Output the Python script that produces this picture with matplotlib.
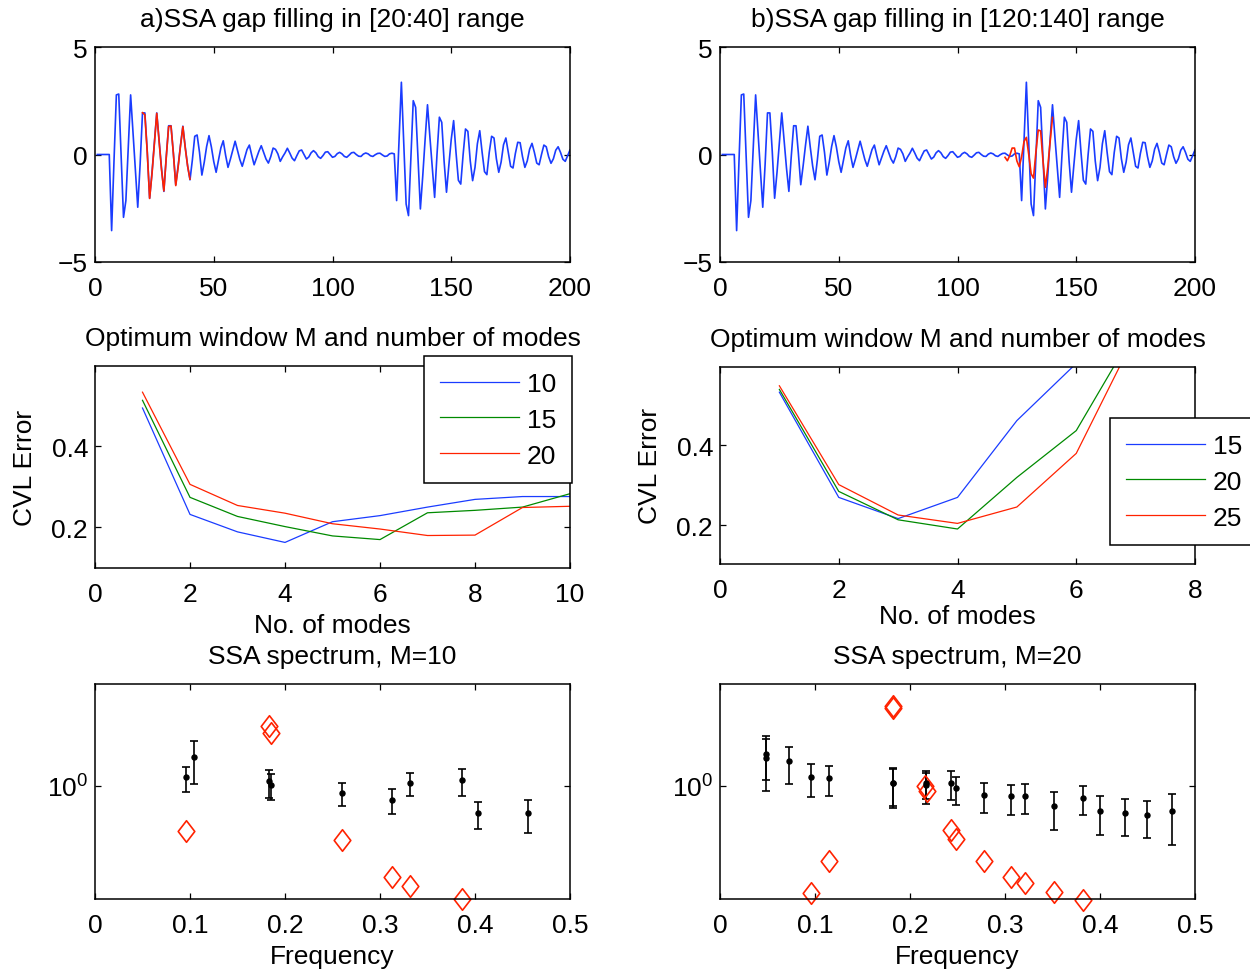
import numpy as np
import matplotlib
matplotlib.use("Agg")
import matplotlib.pyplot as plt
from matplotlib.path import Path

plt.rcParams['font.family'] = ['Liberation Sans', 'DejaVu Sans']
plt.rcParams['font.size'] = 19
plt.rcParams['mathtext.fontset'] = 'custom'
plt.rcParams['mathtext.rm'] = 'Liberation Sans'
plt.rcParams['mathtext.it'] = 'Liberation Sans:italic'
plt.rcParams['axes.linewidth'] = 1.1

# ---------------- data ----------------
# test signal, samples 1..200
signal = [
    0, 0, 0, 0, 0, 0, -3.55, -0.30, 2.78, 2.82,
    -0.05, -2.93, -2.15, 0.35, 2.78, 1.03, -0.71, -2.46, -0.45, 1.94,
    1.94, 0.15, -2.04, -0.84, 0.57, 1.94, 0.65, -0.64, -1.72, -0.10,
    1.34, 1.34, 0.06, -1.41, -0.53, 0.43, 1.32, 0.35, -0.53, -1.18,
    -0.25, 0.85, 0.91, 0.10, -0.96, -0.36, 0.37, 0.88, 0.35, -0.33,
    -0.83, -0.25, 0.31, 0.64, -0.04, -0.60, -0.22, 0.21, 0.62, 0.18,
    -0.24, -0.55, -0.16, 0.23, 0.44, -0.04, -0.48, -0.16, 0.15, 0.41,
    0.10, -0.21, -0.40, -0.10, 0.30, 0.24, 0.03, -0.32, -0.11, 0.07,
    0.29, 0.07, -0.17, -0.29, -0.05, 0.17, 0.21, 0.00, -0.21, -0.12,
    0.08, 0.18, 0.08, -0.10, -0.18, -0.05, 0.11, 0.13, 0.00, -0.13,
    -0.09, 0.04, 0.10, 0.03, -0.09, -0.13, -0.03, 0.08, 0.10, 0.00,
    -0.08, -0.09, 0.02, 0.07, 0.03, -0.06, -0.09, -0.01, 0.05, 0.06,
    -0.02, -0.09, -0.07, 0.03, 0.06, 0.03, -2.15, 0.60, 3.37, 0.50,
    -2.31, -2.85, -0.20, 2.51, 2.20, -0.20, -2.54, -1.00, 0.71, 2.32,
    0.83, -0.57, -2.00, 0.00, 1.74, 1.50, -0.33, -1.76, -0.49, 0.71,
    1.58, 0.10, -1.20, -1.38, 0.00, 1.19, 1.08, -0.30, -1.22, -0.60,
    0.50, 1.11, 0.10, -0.80, -0.94, 0.10, 0.85, 0.77, -0.20, -0.83,
    -0.35, 0.45, 0.77, 0.10, -0.55, -0.63, 0.05, 0.57, 0.55, -0.10,
    -0.60, -0.30, 0.25, 0.52, 0.10, -0.40, -0.48, 0.00, 0.44, 0.36,
    -0.10, -0.41, -0.20, 0.20, 0.36, 0.10, -0.22, -0.32, -0.05, 0.21,
]
gap_a_start, gap_a_end = 20, 40
filled_a = [1.95, 1.85, 0.10, -2.05, -0.90, 0.50, 1.92, 0.60, -0.70, -1.70,
            -0.15, 1.30, 1.33, 0.05, -1.45, -0.60, 0.40, 1.30, 0.30, -0.55, -1.15]
gap_b_start, gap_b_end = 120, 140
filled_b = [-0.13, -0.29, -0.05, 0.30, 0.30, -0.30, -0.57, -0.10, 0.60, 0.80,
            0.00, -0.90, -1.10, 0.10, 1.14, 1.10, -0.30, -1.53, -0.60, 0.60, 1.73]

# cross-validation error vs number of modes
modes_a = [1, 2, 3, 4, 5, 6, 7, 8, 9, 10]
cvl_a_M10 = [0.494, 0.232, 0.189, 0.163, 0.214, 0.229, 0.250, 0.269, 0.276, 0.276]
cvl_a_M15 = [0.513, 0.274, 0.227, 0.202, 0.179, 0.170, 0.236, 0.242, 0.250, 0.283]
cvl_a_M20 = [0.533, 0.306, 0.254, 0.235, 0.209, 0.196, 0.180, 0.181, 0.249, 0.252]
windows_a = ['10', '15', '20']

modes_b = [1, 2, 3, 4, 5, 6, 7]
cvl_b_M15 = [0.533, 0.270, 0.217, 0.270, 0.462, 0.605, 0.800]
cvl_b_M20 = [0.540, 0.285, 0.214, 0.191, 0.320, 0.437, 0.690]
cvl_b_M25 = [0.549, 0.302, 0.226, 0.205, 0.246, 0.380, 0.677]
windows_b = ['15', '20', '25']

# SSA spectra: eigenvalues with error bars, and reference values
freq_a = [0.0954, 0.1039, 0.1835, 0.1853, 0.2604, 0.3123, 0.3316, 0.3860, 0.4028, 0.4554]
eig_a = [1.086, 1.304, 1.047, 1.009, 0.941, 0.882, 1.031, 1.059, 0.783, 0.783]
eig_a_hi = [1.193, 1.506, 1.161, 1.116, 1.031, 0.970, 1.126, 1.172, 0.866, 0.882]
eig_a_lo = [0.949, 1.022, 0.898, 0.882, 0.830, 0.772, 0.910, 0.912, 0.674, 0.650]
ref_freq_a = [0.0954, 0.1835, 0.1853, 0.2604, 0.3123, 0.3316, 0.3860]
ref_val_a = [0.660, 1.730, 1.630, 0.611, 0.434, 0.401, 0.355]

freq_b = [0.0484, 0.0484, 0.0723, 0.0954, 0.1144, 0.1825, 0.1825, 0.2172, 0.2172, 0.2435,
          0.2484, 0.2779, 0.3060, 0.3214, 0.3516, 0.3825, 0.4000, 0.4267, 0.4498, 0.4761]
eig_b = [1.341, 1.290, 1.257, 1.083, 1.076, 1.031, 1.025, 1.028, 1.009, 1.031,
         0.982, 0.921, 0.910, 0.915, 0.835, 0.898, 0.798, 0.781, 0.769, 0.793]
eig_b_hi = [1.585, 1.534, 1.433, 1.220, 1.205, 1.179, 1.170, 1.147, 1.126, 1.150,
            1.089, 1.025, 1.012, 1.021, 0.949, 1.000, 0.910, 0.890, 0.874, 0.929]
eig_b_lo = [0.955, 1.059, 1.015, 0.904, 0.910, 0.817, 0.835, 0.888, 0.850, 0.880,
            0.843, 0.781, 0.769, 0.776, 0.668, 0.764, 0.638, 0.632, 0.619, 0.582]
ref_freq_b = [0.0954, 0.1144, 0.1825, 0.1825, 0.2161, 0.2182, 0.2428, 0.2484, 0.2779,
              0.3060, 0.3214, 0.3516, 0.3825]
ref_val_b = [0.374, 0.503, 2.087, 2.040, 1.003, 0.953, 0.670, 0.615, 0.503,
             0.434, 0.410, 0.377, 0.353]

# ---------------- styling ----------------
BLUE = '#1a3cff'
GREEN = '#008a00'
RED = '#ff2200'
W, H = 1250, 970

fig = plt.figure(figsize=(W / 100, H / 100), dpi=100)


def add_axes(x0, y0, x1, y1):
    """Axes given by pixel box (left, top, right, bottom)."""
    return fig.add_axes([x0 / W, 1 - y1 / H, (x1 - x0) / W, (y1 - y0) / H])


def style(ax):
    ax.tick_params(direction='in', top=True, right=True, length=4.5, width=0.9)
    ax.tick_params(axis='x', pad=10)
    ax.tick_params(axis='y', pad=5)
    ax.minorticks_off()


def title_at(ax, text, dy_px):
    h = ax.get_position().height * H
    ax.text(0.5, 1 + dy_px / h, text, transform=ax.transAxes,
            ha='center', va='center')


def xlabel_at(ax, text, dy_px):
    h = ax.get_position().height * H
    ax.text(0.5, -dy_px / h, text, transform=ax.transAxes,
            ha='center', va='center')


def ylabel_at(ax, text, dx_px):
    w = ax.get_position().width * W
    ax.text(-dx_px / w, 0.5, text, transform=ax.transAxes, rotation=90,
            ha='center', va='center')


t = np.arange(1, len(signal) + 1)

# ---- top row: gap filling ----
for x0, (g0, g1, filled, title) in zip(
        (95, 720),
        ((gap_a_start, gap_a_end, filled_a, 'a)SSA gap filling in [20:40] range'),
         (gap_b_start, gap_b_end, filled_b, 'b)SSA gap filling in [120:140] range'))):
    ax = add_axes(x0, 48.3, x0 + 475, 262.7)
    ax.plot(t, signal, color=BLUE, lw=1.2)
    ax.plot(np.arange(g0, g1 + 1), filled, color=RED, lw=1.2)
    ax.set_xlim(0, 200)
    ax.set_ylim(-5, 5)
    ax.set_xticks([0, 50, 100, 150, 200])
    ax.set_yticks([-5, 0, 5])
    style(ax)
    title_at(ax, title, 28)

# ---- middle row: optimum window ----
diamond = Path([(0, 1), (0.77, 0), (0, -1), (-0.77, 0), (0, 1)],
               [Path.MOVETO, Path.LINETO, Path.LINETO, Path.LINETO, Path.CLOSEPOLY])

ax = add_axes(95, 367, 570, 569)
for vals, c, lab in zip((cvl_a_M10, cvl_a_M15, cvl_a_M20), (BLUE, GREEN, RED), windows_a):
    ax.plot(modes_a, vals, color=c, lw=0.9, label=lab)
ax.set_xlim(0, 10)
ax.set_ylim(0.1, 0.5975)
ax.set_xticks([0, 2, 4, 6, 8, 10])
ax.set_yticks([0.2, 0.4])
ax.set_yticklabels(['0.2', '0.4'])
style(ax)
title_at(ax, 'Optimum window M and number of modes', 28)
xlabel_at(ax, 'No. of modes', 57)
ylabel_at(ax, 'CVL Error', 70)
leg = ax.legend(loc='upper left', bbox_to_anchor=(424 / W, 1 - 357 / H),
                bbox_transform=fig.transFigure, borderaxespad=0, fancybox=False,
                framealpha=1, edgecolor='k', handlelength=3.0, handletextpad=0.3,
                borderpad=0.6, labelspacing=0.45)
leg.get_frame().set_linewidth(1.1)

ax = add_axes(720, 367.6, 1195, 564.8)
for vals, c, lab in zip((cvl_b_M15, cvl_b_M20, cvl_b_M25), (BLUE, GREEN, RED), windows_b):
    ax.plot(modes_b, vals, color=c, lw=0.9, label=lab)
ax.set_xlim(0, 8)
ax.set_ylim(0.104, 0.597)
ax.set_xticks([0, 2, 4, 6, 8])
ax.set_yticks([0.2, 0.4])
ax.set_yticklabels(['0.2', '0.4'])
style(ax)
title_at(ax, 'Optimum window M and number of modes', 28)
xlabel_at(ax, 'No. of modes', 52)
ylabel_at(ax, 'CVL Error', 70)
leg = ax.legend(loc='upper left', bbox_to_anchor=(1110 / W, 1 - 419 / H),
                bbox_transform=fig.transFigure, borderaxespad=0, fancybox=False,
                framealpha=1, edgecolor='k', handlelength=3.0, handletextpad=0.3,
                borderpad=0.6, labelspacing=0.45)
leg.get_frame().set_linewidth(1.1)

# ---- bottom row: SSA spectra ----
for x0, (fq, ev, hi, lo, rf, rv, title) in zip(
        (95, 720),
        ((freq_a, eig_a, eig_a_hi, eig_a_lo, ref_freq_a, ref_val_a, 'SSA spectrum, M=10'),
         (freq_b, eig_b, eig_b_hi, eig_b_lo, ref_freq_b, ref_val_b, 'SSA spectrum, M=20'))):
    ax = add_axes(x0, 685, x0 + 475, 900)
    ax.set_yscale('log')
    ev = np.asarray(ev)
    yerr = [ev - np.asarray(lo), np.asarray(hi) - ev]
    ax.errorbar(fq, ev, yerr=yerr, fmt='o', color='k', ms=3.6, elinewidth=1.2,
                capsize=2.8, capthick=1.2)
    ax.plot(rf, rv, linestyle='none', marker=diamond, ms=15.5, mfc='none',
            mec=RED, mew=1.2, clip_on=False)
    ax.set_xlim(0, 0.5)
    ax.set_ylim(10 ** -0.45, 10 ** 0.406)
    ax.set_xticks([0, 0.1, 0.2, 0.3, 0.4, 0.5])
    ax.set_xticklabels(['0', '0.1', '0.2', '0.3', '0.4', '0.5'])
    ax.set_yticks([1.0])
    ax.set_yticklabels([r'$\mathregular{10^{0}}$'])
    style(ax)
    ax.yaxis.set_minor_locator(matplotlib.ticker.NullLocator())
    title_at(ax, title, 28)
    xlabel_at(ax, 'Frequency', 57)

fig.savefig('out.png', dpi=100)
